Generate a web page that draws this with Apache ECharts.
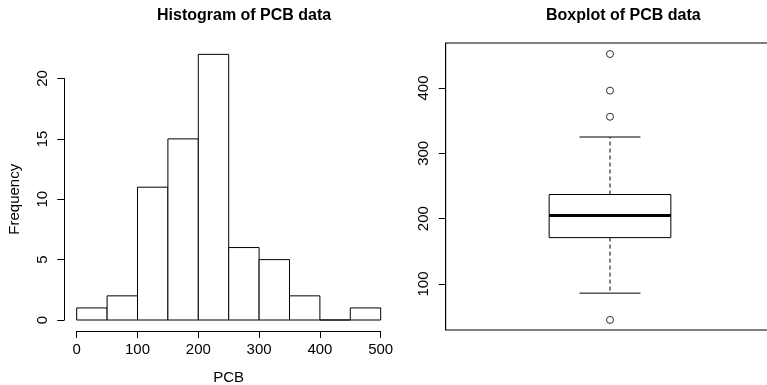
<!DOCTYPE html>
<html>
<head>
<meta charset="utf-8">
<script src="https://cdn.jsdelivr.net/npm/echarts@6/dist/echarts.min.js"></script>
<style>
  html, body { margin: 0; padding: 0; background: #fff; }
  #chart { width: 767px; height: 385px; }
</style>
</head>
<body>
<div id="chart"></div>
<script>
// Histogram of PCB concentrations: bin edges and counts per bin
const binEdges = [0, 50, 100, 150, 200, 250, 300, 350, 400, 450, 500];
const binCounts = [1, 2, 11, 15, 22, 6, 5, 2, 0, 1];

// Boxplot summary: lower whisker, Q1, median, Q3, upper whisker
const boxStats = [86, 171, 205, 237, 325];
const outliers = [45, 356, 396, 452];
const boxYTicks = [100, 200, 300, 400];

const FONT = '"Liberation Sans", Arial, Helvetica, sans-serif';
const INK = '#000';

const histData = binCounts.map((c, i) => [binEdges[i], binEdges[i + 1], c]);

function renderBin(params, api) {
  const p0 = api.coord([api.value(0), 0]);
  const p1 = api.coord([api.value(1), api.value(2)]);
  return {
    type: 'rect',
    shape: { x: p0[0], y: p1[1], width: p1[0] - p0[0], height: p0[1] - p1[1] },
    style: { fill: '#fff', stroke: INK, lineWidth: 1 }
  };
}

// Box half-width and staple half-width, in x-axis units
const BOX_HALF = 0.2;
const CAP_HALF = 0.1;

function renderBox(params, api) {
  const x = api.value(0);
  const lw = api.value(1), q1 = api.value(2), med = api.value(3), q3 = api.value(4), uw = api.value(5);
  const c = (xv, yv) => api.coord([xv, yv]);
  const bl = c(x - BOX_HALF, q1), tr = c(x + BOX_HALF, q3);
  const line = (a, b, extra) => ({
    type: 'line',
    shape: { x1: a[0], y1: a[1], x2: b[0], y2: b[1] },
    style: Object.assign({ stroke: INK, lineWidth: 1 }, extra || {})
  });
  return {
    type: 'group',
    children: [
      line(c(x, q3), c(x, uw), { lineDash: [4, 3] }),
      line(c(x, q1), c(x, lw), { lineDash: [4, 3] }),
      line(c(x - CAP_HALF, uw), c(x + CAP_HALF, uw)),
      line(c(x - CAP_HALF, lw), c(x + CAP_HALF, lw)),
      {
        type: 'rect',
        shape: { x: bl[0], y: tr[1], width: tr[0] - bl[0], height: bl[1] - tr[1] },
        style: { fill: '#fff', stroke: INK, lineWidth: 1 }
      },
      line(c(x - BOX_HALF, med), c(x + BOX_HALF, med), { lineWidth: 3 })
    ]
  };
}

const labelStyle = { fontFamily: FONT, fontSize: 15, color: INK };

const chart = echarts.init(document.getElementById('chart'), null, { renderer: 'canvas' });

chart.setOption({
  animation: false,
  backgroundColor: '#fff',
  title: [
    {
      text: 'Histogram of PCB data',
      left: 157, top: 8, padding: 0,
      textStyle: { fontFamily: FONT, fontSize: 16, fontWeight: 'bold', color: INK }
    },
    {
      text: 'Boxplot of PCB data',
      left: 546, top: 8, padding: 0,
      textStyle: { fontFamily: FONT, fontSize: 16, fontWeight: 'bold', color: INK }
    }
  ],
  grid: [
    { left: 76.7, top: 78.5, width: 304, height: 241.5, outerBoundsMode: 'none' },
    {
      left: 445.7, top: 43, width: 328.6, height: 287, outerBoundsMode: 'none',
      show: true, borderColor: INK, borderWidth: 1, backgroundColor: 'transparent'
    }
  ],
  xAxis: [
    {
      type: 'value', gridIndex: 0, min: 0, max: 500, interval: 100, offset: 11,
      axisLine: { show: true, onZero: false, lineStyle: { color: INK, width: 1 } },
      axisTick: { show: true, length: 7, lineStyle: { color: INK } },
      axisLabel: Object.assign({ margin: 11, showMinLabel: true, showMaxLabel: true }, labelStyle),
      splitLine: { show: false },
      name: 'PCB', nameLocation: 'middle', nameGap: 39,
      nameTextStyle: labelStyle
    },
    {
      type: 'value', gridIndex: 1, min: 0.46, max: 1.54, show: false
    }
  ],
  yAxis: [
    {
      type: 'value', gridIndex: 0, min: 0, max: 20, interval: 5, offset: 12.4,
      axisLine: { show: true, onZero: false, lineStyle: { color: INK, width: 1 } },
      axisTick: { show: true, length: 7, lineStyle: { color: INK } },
      axisLabel: Object.assign({ margin: 14, rotate: 90, showMinLabel: true, showMaxLabel: true }, labelStyle),
      splitLine: { show: false },
      name: 'Frequency', nameLocation: 'middle', nameRotate: 90, nameGap: 42,
      nameTextStyle: labelStyle
    },
    {
      type: 'value', gridIndex: 1, min: 29.6, max: 468.9,
      axisLine: { show: true, onZero: false, lineStyle: { color: INK, width: 1 } },
      axisTick: { show: true, length: 7, lineStyle: { color: INK }, customValues: boxYTicks },
      axisLabel: Object.assign({ margin: 14, rotate: 90, customValues: boxYTicks }, labelStyle),
      splitLine: { show: false }
    }
  ],
  series: [
    {
      type: 'custom', xAxisIndex: 0, yAxisIndex: 0, clip: false,
      renderItem: renderBin,
      encode: { x: [0, 1], y: 2 },
      data: histData
    },
    {
      type: 'custom', xAxisIndex: 1, yAxisIndex: 1, clip: false,
      renderItem: renderBox,
      encode: { x: 0, y: [1, 2, 3, 4, 5] },
      data: [[1].concat(boxStats)]
    },
    {
      type: 'scatter', xAxisIndex: 1, yAxisIndex: 1,
      symbol: 'circle', symbolSize: 7,
      itemStyle: { color: '#fff', borderColor: INK, borderWidth: 1 },
      data: outliers.map(v => [1, v])
    }
  ]
});
</script>
</body>
</html>
